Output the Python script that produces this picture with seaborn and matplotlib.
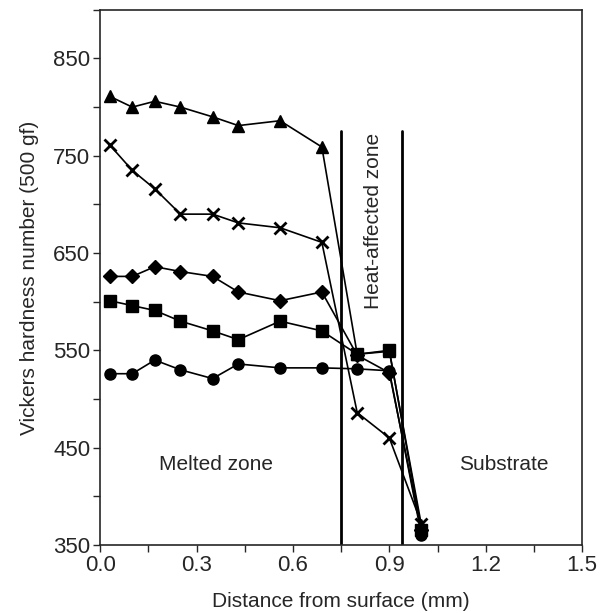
import pandas as pd
import seaborn as sns
import matplotlib.pyplot as plt
from matplotlib.ticker import MultipleLocator

sns.set_style('ticks')
plt.rcParams['font.family'] = ['Liberation Sans', 'DejaVu Sans']
plt.rcParams['font.size'] = 15

# distance from surface (mm)
distance = [0.03, 0.10, 0.17, 0.25, 0.35, 0.43, 0.56, 0.69, 0.80, 0.90, 1.00]

# hardness series (HV 500 gf)
hv_triangle = [811, 800, 806, 800, 790, 781, 786, 759, 546, 549, 370]
hv_cross = [761, 735, 716, 690, 690, 681, 676, 661, 486, 460, 372]
hv_diamond = [626, 626, 636, 631, 626, 610, 601, 610, 545, 527, 365]
hv_square = [601, 596, 591, 580, 570, 561, 580, 570, 546, 550, 365]
hv_circle = [526, 526, 540, 530, 521, 536, 532, 532, 531, 529, 360]

series = {
    'triangle': (hv_triangle, '^'),
    'cross': (hv_cross, 'x'),
    'diamond': (hv_diamond, 'D'),
    'square': (hv_square, 's'),
    'circle': (hv_circle, 'o'),
}

fig, ax = plt.subplots(figsize=(6.07, 6.13), dpi=100)
fig.subplots_adjust(left=0.165, right=0.959, bottom=0.111, top=0.984)

for name, (vals, mk) in series.items():
    df = pd.DataFrame({'d': distance, 'hv': vals})
    ms = 9 if mk in ('^', 'x') else 8
    if mk == 'D':
        ms = 7
    sns.lineplot(data=df, x='d', y='hv', ax=ax, color='black', lw=1.2,
                 marker=mk, markersize=ms, markeredgecolor='black',
                 markeredgewidth=2 if mk == 'x' else 1, sort=False)

# zone boundaries
for xb in [0.75, 0.94]:
    ax.plot([xb, xb], [350, 775], color='black', lw=2)

ax.text(0.36, 433, 'Melted zone', ha='center', va='center', fontsize=15)
ax.text(1.255, 433, 'Substrate', ha='center', va='center', fontsize=15)
ax.text(0.85, 683, 'Heat-affected zone', ha='center', va='center',
        rotation=90, fontsize=15)

ax.set_xlim(0, 1.5)
ax.set_ylim(350, 900)
ax.set_xticks([0.0, 0.3, 0.6, 0.9, 1.2, 1.5])
ax.set_xticklabels(['0.0', '0.3', '0.6', '0.9', '1.2', '1.5'])
ax.set_yticks([350, 450, 550, 650, 750, 850])
ax.xaxis.set_minor_locator(MultipleLocator(0.15))
ax.yaxis.set_minor_locator(MultipleLocator(50))
ax.tick_params(which='both', direction='out', length=5, width=1,
               labelsize=16, pad=2)
ax.set_xlabel('Distance from surface (mm)', labelpad=12, fontsize=15)
ax.set_ylabel('Vickers hardness number (500 gf)', labelpad=10, fontsize=15)
for sp in ax.spines.values():
    sp.set_visible(True)
    sp.set_linewidth(1.2)

plt.savefig('out.png', dpi=100)
